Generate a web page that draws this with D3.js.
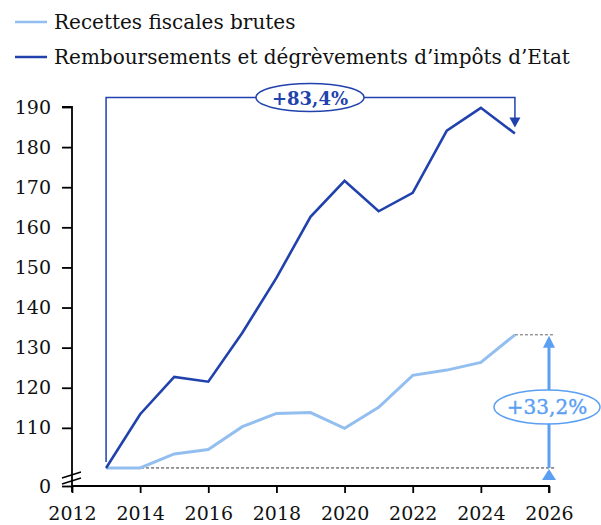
<!DOCTYPE html>
<html>
<head>
<meta charset="utf-8">
<script src="https://cdn.jsdelivr.net/npm/d3@7"></script>
<style>
  body { margin: 0; background: #fff; }
  svg text { font-family: "DejaVu Serif", "Liberation Serif", serif; }
</style>
</head>
<body>
<svg id="chart" width="601" height="525"></svg>
<script>
// index 2013 = 100
var years = [2013, 2014, 2015, 2016, 2017, 2018, 2019, 2020, 2021, 2022, 2023, 2024, 2025];
var recettes = [100, 100, 103.5, 104.6, 110.3, 113.6, 113.8, 109.9, 115.1, 123.1, 124.4, 126.3, 133.2];
var remboursements = [100, 113.4, 122.7, 121.5, 133.7, 147.4, 162.6, 171.6, 164.0, 168.6, 184.1, 189.8, 183.4];
var yTicks = [110, 120, 130, 140, 150, 160, 170, 180, 190];
var xTicks = [2012, 2014, 2016, 2018, 2020, 2022, 2024, 2026];
var legendLabels = ["Recettes fiscales brutes", "Remboursements et dégrèvements d\u2019impôts d\u2019Etat"];
var growthLabels = ["+33,2%", "+83,4%"];

var lightLine = "#93bff0";
var lightArrow = "#5b9ff3";
var darkBlue = "#2142ad";

var svg = d3.select("#chart");

var xScale = d3.scaleLinear()
    .domain([2012, 2026])
    .range([72, 549]);
// bottom of the broken axis shows "0"
var yBottom = 95.5;
var yScale = d3.scaleLinear()
    .domain([yBottom, 190])
    .range([486, 107]);

// axes
var yAxis = d3.axisLeft(yScale)
    .tickValues([yBottom].concat(yTicks))
    .tickFormat(function(d) { return d === yBottom ? "0" : d; })
    .tickSize(10)
    .tickPadding(11);
var gy = svg.append("g")
    .attr("transform", "translate(72,0)")
    .call(yAxis);
gy.select(".domain").attr("d", "M-10,107H0V492").attr("stroke", "#000").attr("stroke-width", 1.8);

var xAxis = d3.axisBottom(xScale)
    .tickValues(xTicks)
    .tickFormat(d3.format("d"))
    .tickSize(7)
    .tickPadding(14);
var gx = svg.append("g")
    .attr("transform", "translate(0,486)")
    .call(xAxis);
gx.select(".domain").attr("d", "M72,0H549V7").attr("stroke", "#000").attr("stroke-width", 1.8);

svg.selectAll(".tick line").attr("stroke", "#000").attr("stroke-width", 1.8);
svg.selectAll(".tick text").attr("fill", "#111").attr("font-size", 19);

// axis break marks
[0, 6].forEach(function(off) {
    svg.append("line")
        .attr("x1", 62).attr("y1", 478 + off)
        .attr("x2", 81).attr("y2", 472 + off)
        .attr("stroke", "#000").attr("stroke-width", 1.5);
});

// base-100 dotted reference line
svg.append("line")
    .attr("x1", xScale(2013)).attr("x2", xScale(2026) + 6)
    .attr("y1", yScale(100)).attr("y2", yScale(100))
    .attr("stroke", "#333").attr("stroke-width", 1)
    .attr("stroke-dasharray", "3,2");

var line = d3.line()
    .x(function(d, i) { return xScale(years[i]); })
    .y(function(d) { return yScale(d); });

svg.append("path")
    .datum(recettes)
    .attr("d", line)
    .attr("fill", "none")
    .attr("stroke", lightLine)
    .attr("stroke-width", 3);

svg.append("path")
    .datum(remboursements)
    .attr("d", line)
    .attr("fill", "none")
    .attr("stroke", darkBlue)
    .attr("stroke-width", 2.6);

// --- dark annotation: bracket from 2013 to 2025 ---
var last = years.length - 1;
var x0 = xScale(years[0]);
var x1 = xScale(years[last]);
var yTop = 97.5;
var yEndDark = yScale(remboursements[last]);
svg.append("path")
    .attr("d", "M" + x0 + "," + (yScale(100) - 6) + "V" + yTop + "H" + x1 + "V" + (yEndDark - 14))
    .attr("fill", "none")
    .attr("stroke", darkBlue)
    .attr("stroke-width", 1.5);
svg.append("path")
    .attr("d", "M" + (x1 - 5.5) + "," + (yEndDark - 16) + "H" + (x1 + 5.5) + "L" + x1 + "," + (yEndDark - 6) + "Z")
    .attr("fill", darkBlue);
svg.append("ellipse")
    .attr("cx", 310).attr("cy", yTop)
    .attr("rx", 54).attr("ry", 14)
    .attr("fill", "#fff")
    .attr("stroke", darkBlue)
    .attr("stroke-width", 1.5);
svg.append("text")
    .attr("x", 310).attr("y", yTop + 7)
    .attr("text-anchor", "middle")
    .attr("font-size", 18)
    .attr("font-weight", "bold")
    .attr("fill", darkBlue)
    .text(growthLabels[1]);

// --- light annotation: vertical arrow at 2026 ---
var xa = xScale(2026);
var yEndLight = yScale(recettes[last]);
svg.append("line")
    .attr("x1", x1).attr("x2", xa + 6)
    .attr("y1", yEndLight).attr("y2", yEndLight)
    .attr("stroke", "#666").attr("stroke-width", 1)
    .attr("stroke-dasharray", "3,2");
svg.append("line")
    .attr("x1", xa).attr("x2", xa)
    .attr("y1", yScale(100)).attr("y2", yEndLight + 10)
    .attr("stroke", lightArrow)
    .attr("stroke-width", 3);
svg.append("path")
    .attr("d", "M" + (xa - 6) + "," + (yEndLight + 13) + "H" + (xa + 6) + "L" + xa + "," + (yEndLight + 1) + "Z")
    .attr("fill", lightArrow);
svg.append("path")
    .attr("d", "M" + (xa - 7) + "," + (yScale(100) + 12) + "H" + (xa + 7) + "L" + xa + "," + (yScale(100) + 1) + "Z")
    .attr("fill", lightArrow);
var yMid = 407;
svg.append("ellipse")
    .attr("cx", xa - 2).attr("cy", yMid)
    .attr("rx", 53).attr("ry", 17)
    .attr("fill", "#fff")
    .attr("stroke", lightArrow)
    .attr("stroke-width", 1.5);
svg.append("text")
    .attr("x", xa - 2).attr("y", yMid + 7)
    .attr("text-anchor", "middle")
    .attr("font-size", 20)
    .attr("fill", lightArrow)
    .attr("stroke", lightArrow)
    .attr("stroke-width", 0.4)
    .text(growthLabels[0]);

// legend
var legendColors = [lightLine, darkBlue];
var legend = svg.selectAll(".legend")
    .data(legendLabels)
    .enter()
    .append("g")
    .attr("class", "legend")
    .attr("transform", function(d, i) { return "translate(0," + (22 + i * 35) + ")"; });
legend.append("line")
    .attr("x1", 15).attr("x2", 47)
    .attr("stroke", function(d, i) { return legendColors[i]; })
    .attr("stroke-width", 2.5);
legend.append("text")
    .attr("x", 54).attr("y", 7)
    .attr("font-size", 20)
    .attr("fill", "#111")
    .text(function(d) { return d; });
</script>
</body>
</html>
